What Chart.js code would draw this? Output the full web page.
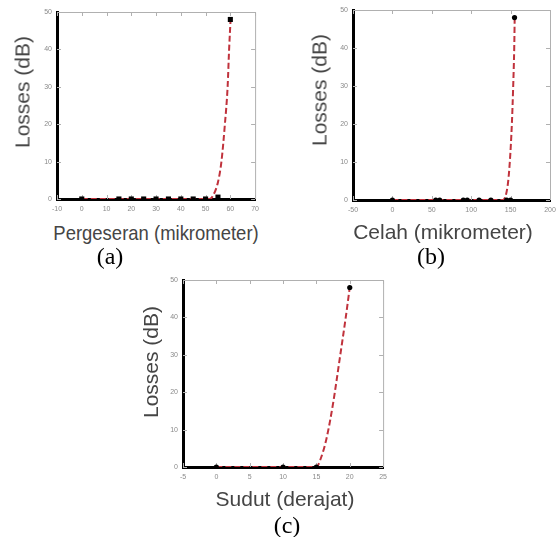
<!DOCTYPE html>
<html>
<head>
<meta charset="utf-8">
<script src="https://cdn.jsdelivr.net/npm/chart.js@4.4.1/dist/chart.umd.min.js"></script>
<style>
  body { margin: 0; background: #fff; }
  #page { position: relative; width: 556px; height: 537px; overflow: hidden; font-family: 'Liberation Sans', Arial, sans-serif; }
  .plot { position: absolute; }
  .ytitle, .xtitle, .cap { position: absolute; white-space: nowrap; line-height: 1; }
  .ytitle { font-size: 21px; color: #454545; transform: translate(-50%, -50%) rotate(-90deg); }
  .xtitle { font-size: 21px; color: #454545; transform: translate(-50%, -50%); }
  .cap { font-family: 'Liberation Serif', 'Times New Roman', serif; font-size: 24px; color: #000; transform: translate(-50%, -50%); }
</style>
</head>
<body>
<div id="page">
  <div class="plot" style="left:27px;top:0;width:238px;height:220px"><canvas id="chart-a"></canvas></div>
  <div class="plot" style="left:323px;top:0;width:250px;height:220px"><canvas id="chart-b"></canvas></div>
  <div class="plot" style="left:153px;top:268px;width:240px;height:220px"><canvas id="chart-c"></canvas></div>

  <div class="ytitle" style="left:22px;top:92px">Losses (dB)</div>
  <div class="ytitle" style="left:319px;top:90px">Losses (dB)</div>
  <div class="ytitle" style="left:150px;top:362px">Losses (dB)</div>

  <div class="xtitle" style="left:156px;top:232px;transform:translate(-50%,-50%) scaleX(0.88)">Pergeseran (mikrometer)</div>
  <div class="xtitle" style="left:443px;top:231px">Celah (mikrometer)</div>
  <div class="xtitle" style="left:285px;top:498px">Sudut (derajat)</div>

  <div class="cap" style="left:110px;top:256px">(a)</div>
  <div class="cap" style="left:431px;top:256px">(b)</div>
  <div class="cap" style="left:287px;top:525px">(c)</div>
</div>

<script>
// (a) pergeseran (shift), mikrometer
const shiftX    = [0, 15, 20, 25, 30, 35, 40, 45, 50, 55, 60];
const shiftLoss = [0, 0, 0, 0, 0, 0, 0, 0, 0, 0.5, 48];
const shiftFitX    = [0, 51.5, 52.8, 55, 56.4, 57.8, 58.9, 59.5, 60.1];
const shiftFitLoss = [0, 0, 0.7, 4.5, 10, 20, 30, 40, 48];
const shiftTicks = [-10, 0, 10, 20, 30, 40, 50, 60, 70];

// (b) celah (gap), mikrometer
const gapX    = [0, 55, 60, 90, 95, 110, 125, 145, 150, 155];
const gapLoss = [0, 0, 0, 0, 0, 0, 0, 0, 0, 48];
const gapFitX    = [0, 140, 146, 149, 151.6, 153.3, 154.6, 155.2];
const gapFitLoss = [0, 0, 3.4, 10, 20, 30, 40, 48];
const gapTicks = [-50, 0, 50, 100, 150, 200];

// (c) sudut (angle), derajat
const angleX    = [0, 10, 15, 20];
const angleLoss = [0, 0, 0, 48];
const angleFitX    = [0, 15, 15.6, 16.5, 17.5, 18.5, 19.4, 20];
const angleFitLoss = [0, 0, 2, 7.5, 17, 29, 40, 48];
const angleTicks = [-5, 0, 5, 10, 15, 20, 25];

const lossTicks = [0, 10, 20, 30, 40, 50];

// thin grey top/right frame + small inward ticks on every side
const framePlugin = {
  id: 'frame',
  beforeDatasetsDraw(chart) {
    const { ctx, chartArea: a, scales: { x, y } } = chart;
    ctx.save();
    ctx.strokeStyle = '#b0b0b0';
    ctx.lineWidth = 1;
    ctx.beginPath();
    ctx.moveTo(a.left, a.top + 0.5);
    ctx.lineTo(a.right + 0.5, a.top + 0.5);
    ctx.lineTo(a.right + 0.5, a.bottom);
    x.ticks.forEach(t => {
      const p = Math.round(x.getPixelForValue(t.value)) + 0.5;
      ctx.moveTo(p, a.top); ctx.lineTo(p, a.top + 4);
      ctx.moveTo(p, a.bottom); ctx.lineTo(p, a.bottom - 4);
    });
    y.ticks.forEach(t => {
      const p = Math.round(y.getPixelForValue(t.value)) + 0.5;
      ctx.moveTo(a.right, p); ctx.lineTo(a.right - 4, p);
      ctx.moveTo(a.left, p); ctx.lineTo(a.left + 4, p);
    });
    ctx.stroke();
    ctx.restore();
  },
};

function toPoints(xs, ys) {
  return xs.map((v, i) => ({ x: v, y: ys[i] }));
}

// o.box = wanted plot area inside the canvas (left, top, right, bottom)
function makeChart(id, o) {
  const tickFont = { family: "'Liberation Sans', Arial, sans-serif", size: 7 };
  const lay = { top: o.box[1], right: 0, yWidth: o.box[0], xHeight: 20 };
  const chart = new Chart(document.getElementById(id), {
    type: 'line',
    data: {
      datasets: [
        {
          data: toPoints(o.x, o.y),
          order: 0,
          showLine: false,
          pointStyle: o.marker,
          pointRadius: o.radius,
          pointBackgroundColor: '#000',
          pointBorderColor: '#000',
          pointBorderWidth: 0,
        },
        {
          data: toPoints(o.fitX, o.fitY),
          order: 1,
          borderColor: '#c0323c',
          borderWidth: 2,
          borderDash: [6, 3],
          cubicInterpolationMode: 'monotone',
          pointRadius: 0,
          fill: false,
        },
      ],
    },
    options: {
      responsive: true,
      maintainAspectRatio: false,
      animation: false,
      layout: { padding: { top: lay.top, right: lay.right, left: 0, bottom: 0 } },
      plugins: { legend: { display: false }, tooltip: { enabled: false } },
      scales: {
        x: {
          type: 'linear',
          min: o.ticks[0],
          max: o.ticks[o.ticks.length - 1],
          z: 1,
          afterBuildTicks: s => { s.ticks = o.ticks.map(v => ({ value: v })); },
          afterFit: s => { s.height = lay.xHeight; },
          grid: { display: false, drawTicks: false },
          border: { color: '#000', width: 3 },
          ticks: { color: '#8a8a8a', font: tickFont, padding: 6, maxRotation: 0, autoSkip: false },
        },
        y: {
          min: 0,
          max: 50,
          z: 1,
          afterBuildTicks: s => { s.ticks = lossTicks.map(v => ({ value: v })); },
          afterFit: s => { s.width = lay.yWidth; },
          grid: { display: false, drawTicks: false },
          border: { color: '#000', width: 3 },
          ticks: { color: '#8a8a8a', font: tickFont, padding: 5 },
        },
      },
    },
    plugins: [framePlugin],
  });

  // nudge the layout a few times so the plot area lands where the reference has it
  for (let i = 0; i < 4; i++) {
    const a = chart.chartArea;
    lay.yWidth += o.box[0] - a.left;
    lay.top += o.box[1] - a.top;
    lay.right += a.right - o.box[2];
    lay.xHeight += a.bottom - o.box[3];
    chart.options.layout.padding.top = Math.max(0, lay.top);
    chart.options.layout.padding.right = Math.max(0, lay.right);
    chart.update();
  }
  return chart;
}

makeChart('chart-a', {
  x: shiftX, y: shiftLoss, fitX: shiftFitX, fitY: shiftFitLoss, ticks: shiftTicks,
  marker: 'rect', radius: 3.6, box: [30, 12, 228, 199],
});
makeChart('chart-b', {
  x: gapX, y: gapLoss, fitX: gapFitX, fitY: gapFitLoss, ticks: gapTicks,
  marker: 'circle', radius: 2.6, box: [30, 10, 227, 200],
});
makeChart('chart-c', {
  x: angleX, y: angleLoss, fitX: angleFitX, fitY: angleFitLoss, ticks: angleTicks,
  marker: 'circle', radius: 2.6, box: [30, 12, 229, 199],
});
</script>
</body>
</html>
